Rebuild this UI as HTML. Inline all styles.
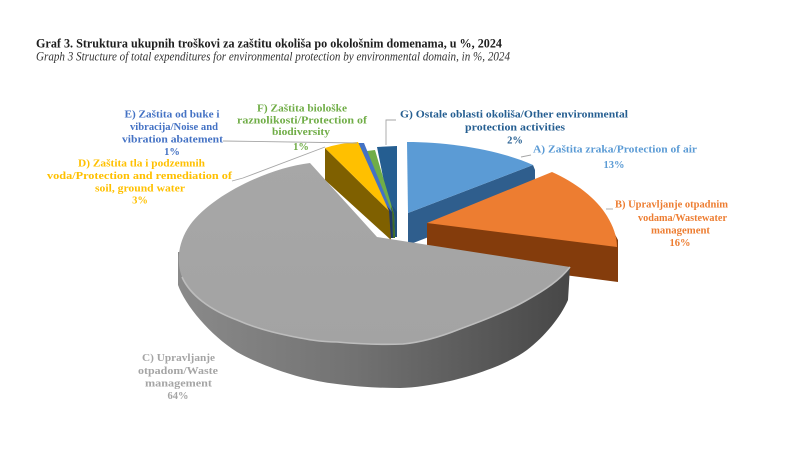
<!DOCTYPE html>
<html><head><meta charset="utf-8"><style>
html,body{margin:0;padding:0;background:#fff;}
svg{display:block;}
text{font-family:"Liberation Serif",serif;}
.l{font-weight:bold;font-size:10.5px;text-anchor:middle;}
</style></head><body>
<svg width="800" height="449" viewBox="0 0 800 449" xmlns="http://www.w3.org/2000/svg">
<defs>
<linearGradient id="gs" x1="178" y1="0" x2="570" y2="0" gradientUnits="userSpaceOnUse">
<stop offset="0" stop-color="#8a8a8a"/><stop offset="0.45" stop-color="#727272"/><stop offset="1" stop-color="#474747"/>
</linearGradient>
<linearGradient id="gt" x1="0" y1="160" x2="0" y2="345" gradientUnits="userSpaceOnUse">
<stop offset="0" stop-color="#a7a7a7"/><stop offset="1" stop-color="#a3a3a3"/>
</linearGradient>
</defs>
<rect width="800" height="449" fill="#fff"/>

<!-- title -->
<text x="36" y="47.3" font-size="13" font-weight="bold" fill="#1e1e1e" textLength="466" lengthAdjust="spacingAndGlyphs">Graf 3. Struktura ukupnih troškovi za zaštitu okoliša po okološnim domenama, u %, 2024</text>
<text x="36" y="60.3" font-size="12.5" font-style="italic" fill="#333" textLength="474" lengthAdjust="spacingAndGlyphs">Graph 3 Structure of total expenditures for environmental protection by environmental domain, in %, 2024</text>

<!-- G slice -->
<polygon points="377,147 397,146 397,237 395,237" fill="#255E91"/>
<polygon points="388,200 397,212 397,237 395,237" fill="#1f4f7c"/>
<!-- F slice -->
<polygon points="367,151 375,150 394,214 395,238 392,238" fill="#70AD47"/>
<polygon points="391,206 394,214 395,238 392,238" fill="#3f6a26"/>
<!-- E slice -->
<polygon points="357,143 364,143 392,212 393,238 389,238" fill="#4472C4"/>
<polygon points="386,205 392,212 393,238 389,238" fill="#203864"/>
<!-- D slice -->
<polygon points="325,148 389,211 391,240 325,180" fill="#7F6000"/>
<path d="M325,148 Q340,143 358,142 L389,211 Z" fill="#FFC000"/>

<!-- A slice -->
<polygon points="408,213 533,165 535,170 535,196 408,245" fill="#2F5E8D"/>
<path d="M408,213 L407,142 C450,142 500,150 533,165 Z" fill="#5B9BD5"/>

<!-- B slice -->
<polygon points="427,223 610,225 618,240 618,282 427,257" fill="#843C0C"/>
<path d="M427,223 L552,172 C575,182 597,199 607,216 C613,226 617,236 617,247 Z" fill="#ED7D31"/>

<!-- C slice -->
<path d="M178,252 L178,285 C185,305 210,335 237,352 C260,365 300,380 337,384 C360,387 380,388 400,388 C440,387 500,370 527,350 C545,336 560,318 568,300 L570,267 L377,260 Z" fill="url(#gs)"/>
<path d="M377,237 L310,163 C268,168 212,195 190,225 C178,242 176,262 182,277 C190,295 210,310 237,320 C255,328 275,333 290,336 C305,339 320,342 337,342 C360,344 380,345 403,344 C425,342 445,335 460,329 C485,320 510,310 527,300 C545,290 560,280 570,267 Z" fill="url(#gt)"/>
<path d="M182,277 C190,295 210,310 237,320 C255,328 275,333 290,336 C305,339 320,342 337,342 C360,344 380,345 403,344 C425,342 445,335 460,329 C485,320 510,310 527,300 C545,290 560,280 570,267" fill="none" stroke="#bdbdbd" stroke-width="1.6"/>

<!-- leader lines -->
<g fill="none" stroke="#a6a6a6" stroke-width="0.9">
<polyline points="223,141 357,143"/>
<polyline points="232,181 243,178 325,147"/>
<polyline points="396,120 386,120 386,145"/>
<polyline points="521,157 531,155"/>
<polyline points="606,209 613,209"/>
</g>

<!-- labels -->
<g class="l" fill="#4472C4">
<text class="l" x="172" y="117.5" textLength="95" lengthAdjust="spacingAndGlyphs">E) Zaštita od buke i</text>
<text class="l" x="174" y="130" textLength="88" lengthAdjust="spacingAndGlyphs">vibracija/Noise and</text>
<text class="l" x="172.5" y="142.5" textLength="101" lengthAdjust="spacingAndGlyphs">vibration abatement</text>
<text class="l" x="172" y="155">1%</text>
</g>
<g fill="#70AD47">
<text class="l" x="302" y="111.5" textLength="90" lengthAdjust="spacingAndGlyphs">F) Zaštita biološke</text>
<text class="l" x="302" y="123.5" textLength="130" lengthAdjust="spacingAndGlyphs">raznolikosti/Protection of</text>
<text class="l" x="301" y="135" textLength="58" lengthAdjust="spacingAndGlyphs">biodiversity</text>
<text class="l" x="301" y="150">1%</text>
</g>
<g fill="#255E91">
<text class="l" x="514" y="117.5" textLength="228" lengthAdjust="spacingAndGlyphs">G) Ostale oblasti okoliša/Other environmental</text>
<text class="l" x="515" y="130.5" textLength="100" lengthAdjust="spacingAndGlyphs">protection activities</text>
<text class="l" x="515" y="143.5">2%</text>
</g>
<g fill="#5B9BD5">
<text class="l" x="615" y="152.5" textLength="164" lengthAdjust="spacingAndGlyphs">A) Zaštita zraka/Protection of air</text>
<text class="l" x="614" y="168">13%</text>
</g>
<g fill="#ED7D31">
<text class="l" x="671.5" y="207.5" textLength="113" lengthAdjust="spacingAndGlyphs">B) Upravljanje otpadnim</text>
<text class="l" x="682.5" y="221" textLength="89" lengthAdjust="spacingAndGlyphs">vodama/Wastewater</text>
<text class="l" x="680.5" y="233.5" textLength="59" lengthAdjust="spacingAndGlyphs">management</text>
<text class="l" x="680" y="246">16%</text>
</g>
<g fill="#FFC000">
<text class="l" x="141.5" y="166.5" textLength="127" lengthAdjust="spacingAndGlyphs">D) Zaštita tla i podzemnih</text>
<text class="l" x="139.5" y="179" textLength="185" lengthAdjust="spacingAndGlyphs">voda/Protection and remediation of</text>
<text class="l" x="140" y="191.5" textLength="90" lengthAdjust="spacingAndGlyphs">soil, ground water</text>
<text class="l" x="140" y="203.5">3%</text>
</g>
<g fill="#A5A5A5">
<text class="l" x="178.5" y="361" textLength="73" lengthAdjust="spacingAndGlyphs">C) Upravljanje</text>
<text class="l" x="178" y="374" textLength="80" lengthAdjust="spacingAndGlyphs">otpadom/Waste</text>
<text class="l" x="178.5" y="386.5" textLength="67" lengthAdjust="spacingAndGlyphs">management</text>
<text class="l" x="178" y="399">64%</text>
</g>
</svg>
</body></html>
